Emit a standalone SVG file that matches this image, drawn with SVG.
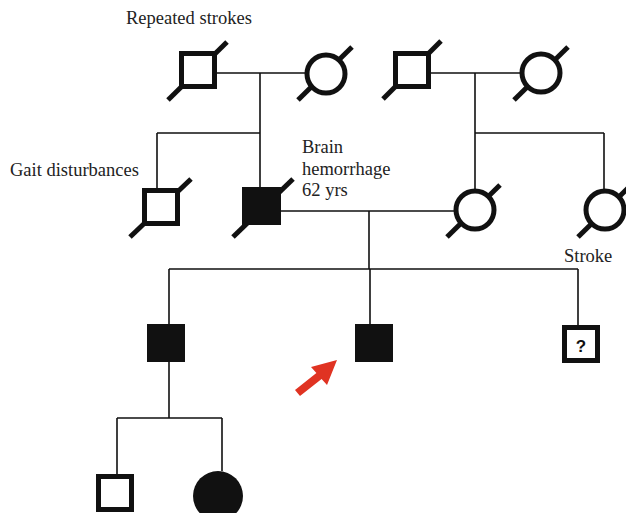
<svg xmlns="http://www.w3.org/2000/svg" width="626" height="513" viewBox="0 0 626 513">
<style>
.ln{stroke:#111;stroke-width:1.6;fill:none}
.dg{stroke:#111;stroke-width:5;fill:none}
.sym{stroke:#111;stroke-width:5;fill:#fff}
.aff{fill:#111;stroke:none}
.t{font-family:"Liberation Serif","Times New Roman",serif;font-size:18.5px;fill:#222}
</style>
<rect width="626" height="513" fill="#fff"/>
<g id="connectors">
<path class="ln" d="M198,73 H326 M260,73 V133 M157,133 H260 M157,133 V188 M260,133 V188"/>
<path class="ln" d="M412,73 H541 M475,73 V133 H604 M475,133 V190 M604,133 V190"/>
<path class="ln" d="M281,211 H455 M369,211 V269 M169,269 H578 M169,269 V324 M370,269 V324 M578,269 V325"/>
<path class="ln" d="M169,362 V418 M117,418 H222 M117,418 V474 M222,418 V471"/>
</g>
<g id="I1"><line class="dg" x1="168" y1="100" x2="227" y2="42"/><rect class="sym" x="181.5" y="53.5" width="33" height="33"/></g>
<g id="I2"><line class="dg" x1="298" y1="100" x2="352" y2="47"/><circle class="sym" cx="326" cy="74" r="19"/></g>
<g id="I3"><line class="dg" x1="383" y1="99" x2="441" y2="41"/><rect class="sym" x="395.5" y="53.5" width="33" height="33"/></g>
<g id="I4"><line class="dg" x1="514" y1="100" x2="568" y2="47"/><circle class="sym" cx="541" cy="73" r="19"/></g>
<g id="II1"><line class="dg" x1="130" y1="237" x2="191" y2="179"/><rect class="sym" x="144.5" y="190.5" width="33" height="33"/></g>
<g id="II2"><line class="dg" x1="233" y1="237" x2="293" y2="179"/><rect class="aff" x="242" y="187" width="39" height="38"/></g>
<g id="II3"><line class="dg" x1="447" y1="237" x2="500" y2="185"/><circle class="sym" cx="475" cy="210" r="19"/></g>
<g id="II4"><line class="dg" x1="578" y1="237" x2="631" y2="185"/><circle class="sym" cx="605" cy="210" r="19"/></g>
<g id="III1"><rect class="aff" x="147" y="324" width="38" height="38"/></g>
<g id="III2"><rect class="aff" x="355" y="324" width="38" height="38"/></g>
<g id="III3"><rect class="sym" x="564.5" y="327.5" width="33" height="33"/><text x="581" y="352" text-anchor="middle" font-family="Liberation Sans,Arial,sans-serif" font-weight="bold" font-size="17" fill="#111">?</text></g>
<g id="IV1"><rect class="sym" x="98.5" y="476.5" width="33" height="33"/></g>
<g id="IV2"><circle class="aff" cx="218" cy="496" r="25"/></g>
<g id="arrow"><polygon fill="#e03322" points="337,360 327,385 321.6,379 300,396 295,390 316.4,373 311,367"/></g>
<g id="labels">
<text class="t" x="126" y="24">Repeated strokes</text>
<text class="t" x="10" y="176">Gait disturbances</text>
<text class="t" x="302" y="153">Brain</text>
<text class="t" x="302" y="175">hemorrhage</text>
<text class="t" x="302" y="196">62 yrs</text>
<text class="t" x="564" y="262">Stroke</text>
</g>
</svg>
